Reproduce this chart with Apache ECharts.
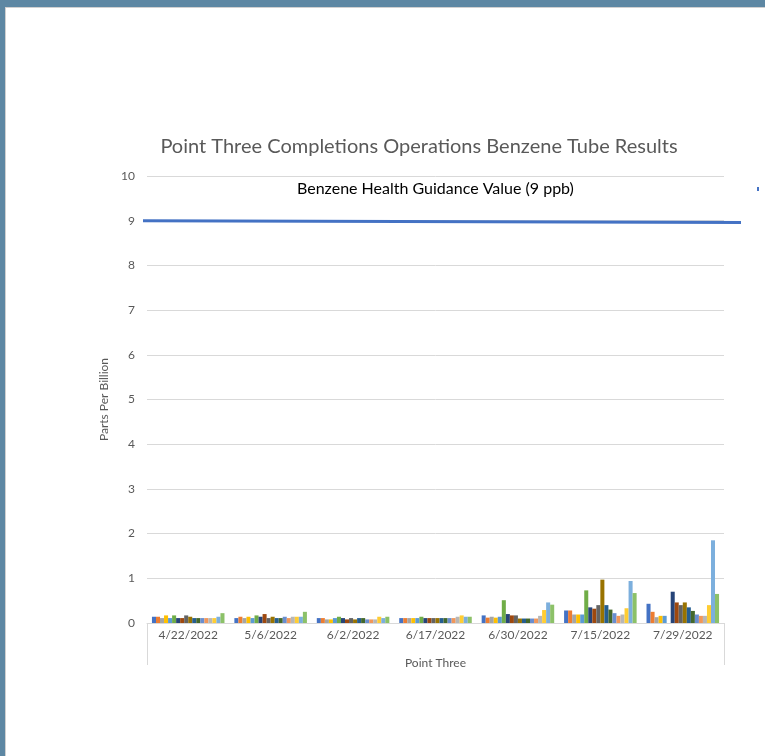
<!DOCTYPE html>
<html>
<head>
<meta charset="utf-8">
<script src="https://cdn.jsdelivr.net/npm/echarts@6/dist/echarts.min.js"></script>
<style>
  html, body { margin: 0; padding: 0; background: #fff; }
  #chart { width: 765px; height: 756px; }
</style>
</head>
<body>
<div id="chart"></div>
<script>
  // sampling dates (x categories)
  const dates = ['4/22/2022', '5/6/2022', '6/2/2022', '6/17/2022', '6/30/2022', '7/15/2022', '7/29/2022']
  const yTicks = [0, 1, 2, 3, 4, 5, 6, 7, 8, 9, 10]
  const guidanceValue = 9

  // one array per tube, values per date (ppb)
  const tube1 = [0.14, 0.11, 0.11, 0.11, 0.17, 0.28, 0.43]
  const tube2 = [0.14, 0.14, 0.11, 0.11, 0.12, 0.28, 0.25]
  const tube3 = [0.11, 0.11, 0.08, 0.11, 0.14, 0.19, 0.13]
  const tube4 = [0.17, 0.14, 0.08, 0.11, 0.12, 0.19, 0.16]
  const tube5 = [0.11, 0.11, 0.11, 0.11, 0.14, 0.19, 0.16]
  const tube6 = [0.17, 0.17, 0.14, 0.14, 0.51, 0.73, 0]
  const tube7 = [0.11, 0.14, 0.11, 0.11, 0.20, 0.35, 0.70]
  const tube8 = [0.11, 0.20, 0.08, 0.11, 0.17, 0.32, 0.46]
  const tube9 = [0.17, 0.11, 0.11, 0.11, 0.17, 0.40, 0.40]
  const tube10 = [0.14, 0.14, 0.08, 0.11, 0.10, 0.97, 0.46]
  const tube11 = [0.11, 0.11, 0.11, 0.11, 0.10, 0.40, 0.35]
  const tube12 = [0.11, 0.11, 0.11, 0.11, 0.10, 0.30, 0.27]
  const tube13 = [0.11, 0.14, 0.08, 0.11, 0.10, 0.22, 0.19]
  const tube14 = [0.11, 0.11, 0.08, 0.11, 0.10, 0.16, 0.16]
  const tube15 = [0.11, 0.14, 0.08, 0.14, 0.16, 0.19, 0.16]
  const tube16 = [0.11, 0.14, 0.14, 0.17, 0.29, 0.33, 0.40]
  const tube17 = [0.14, 0.14, 0.11, 0.14, 0.46, 0.94, 1.85]
  const tube18 = [0.22, 0.25, 0.14, 0.14, 0.41, 0.67, 0.65]

  const tubes = [tube1, tube2, tube3, tube4, tube5, tube6, tube7, tube8, tube9,
    tube10, tube11, tube12, tube13, tube14, tube15, tube16, tube17, tube18]

  // office palette
  const colors = ['#4472C4', '#ED7D31', '#A5A5A5', '#FFC000', '#5B9BD5', '#70AD47',
    '#264478', '#9E480E', '#636363', '#997300', '#255E91', '#43682B',
    '#698ED0', '#F1975A', '#B7B7B7', '#FFCD33', '#7CAFDD', '#8CC168']

  const font = 'Lato, "Open Sans", sans-serif'
  const gridLeft = 147
  const gridRight = 41
  const gridTop = 176
  const gridBottom = 133

  const chart = echarts.init(document.getElementById('chart'))

  const barSeries = tubes.map((vals, i) => ({
    name: 'Tube ' + (i + 1),
    type: 'bar',
    data: vals,
    barGap: 0,
    barCategoryGap: '12%',
    itemStyle: { color: colors[i] },
    silent: true
  }))

  const option = {
    animation: false,
    backgroundColor: '#fff',
    textStyle: { fontFamily: font },
    title: {
      text: 'Point Three Completions Operations Benzene Tube Results',
      left: 414,
      top: 132,
      textAlign: 'center',
      textStyle: { fontFamily: font, fontSize: 20, fontWeight: 'normal', color: '#595959' }
    },
    grid: [
      { left: gridLeft, right: gridRight, top: gridTop, bottom: gridBottom, containLabel: false },
      // the guidance line is a drawn shape that runs past the plot area
      { left: 143, right: 24, top: gridTop, bottom: gridBottom, containLabel: false }
    ],
    xAxis: [
      {
        type: 'category',
        gridIndex: 0,
        data: dates,
        axisTick: { show: false },
        axisLine: { lineStyle: { color: '#d9d9d9', width: 1 } },
        axisLabel: { color: '#595959', fontSize: 12, margin: 6, fontFamily: font },
        name: 'Point Three',
        nameLocation: 'middle',
        nameGap: 34,
        nameTextStyle: { color: '#595959', fontSize: 12, fontFamily: font }
      },
      { type: 'value', gridIndex: 1, min: 0, max: 1, show: false }
    ],
    yAxis: [
      {
        type: 'value',
        gridIndex: 0,
        min: yTicks[0],
        max: yTicks[yTicks.length - 1],
        interval: 1,
        axisLine: { show: false },
        axisTick: { show: false },
        axisLabel: { color: '#595959', fontSize: 12, margin: 12, fontFamily: font },
        splitLine: { lineStyle: { color: '#d9d9d9', width: 1 } },
        name: 'Parts Per Billion',
        nameLocation: 'middle',
        nameGap: 36,
        nameTextStyle: { color: '#595959', fontSize: 12, fontFamily: font }
      },
      {
        type: 'value',
        gridIndex: 1,
        min: yTicks[0],
        max: yTicks[yTicks.length - 1],
        show: false
      }
    ],
    series: barSeries.concat([
      {
        name: 'Guidance',
        type: 'line',
        xAxisIndex: 1,
        yAxisIndex: 1,
        symbol: 'none',
        silent: true,
        lineStyle: { color: '#4472C4', width: 3 },
        data: [[0, guidanceValue], [1, guidanceValue - 0.04]],
        z: 5
      }
    ]),
    graphic: [
      // window frame
      { type: 'rect', shape: { x: 0, y: 0, width: 765, height: 7 }, style: { fill: '#5d87a3' } },
      { type: 'rect', shape: { x: 0, y: 0, width: 5, height: 756 }, style: { fill: '#5d87a3' } },
      { type: 'rect', shape: { x: 5, y: 7, width: 760, height: 1 }, style: { fill: '#d0d0d0' } },
      { type: 'rect', shape: { x: 5, y: 7, width: 1, height: 749 }, style: { fill: '#d0d0d0' } },
      // multi-level axis edges
      { type: 'line', shape: { x1: gridLeft + 0.5, y1: 623, x2: gridLeft + 0.5, y2: 665 }, style: { stroke: '#d9d9d9', lineWidth: 1 } },
      { type: 'line', shape: { x1: 724.5, y1: 623, x2: 724.5, y2: 665 }, style: { stroke: '#d9d9d9', lineWidth: 1 } },
      // guidance label
      {
        type: 'text',
        left: 297,
        top: 181,
        style: { text: 'Benzene Health Guidance Value (9 ppb)', fill: '#000', font: '16px ' + font }
      },
      { type: 'rect', shape: { x: 757, y: 187, width: 2, height: 4 }, style: { fill: '#4472C4' } }
    ]
  }

  chart.setOption(option)
</script>
</body>
</html>
